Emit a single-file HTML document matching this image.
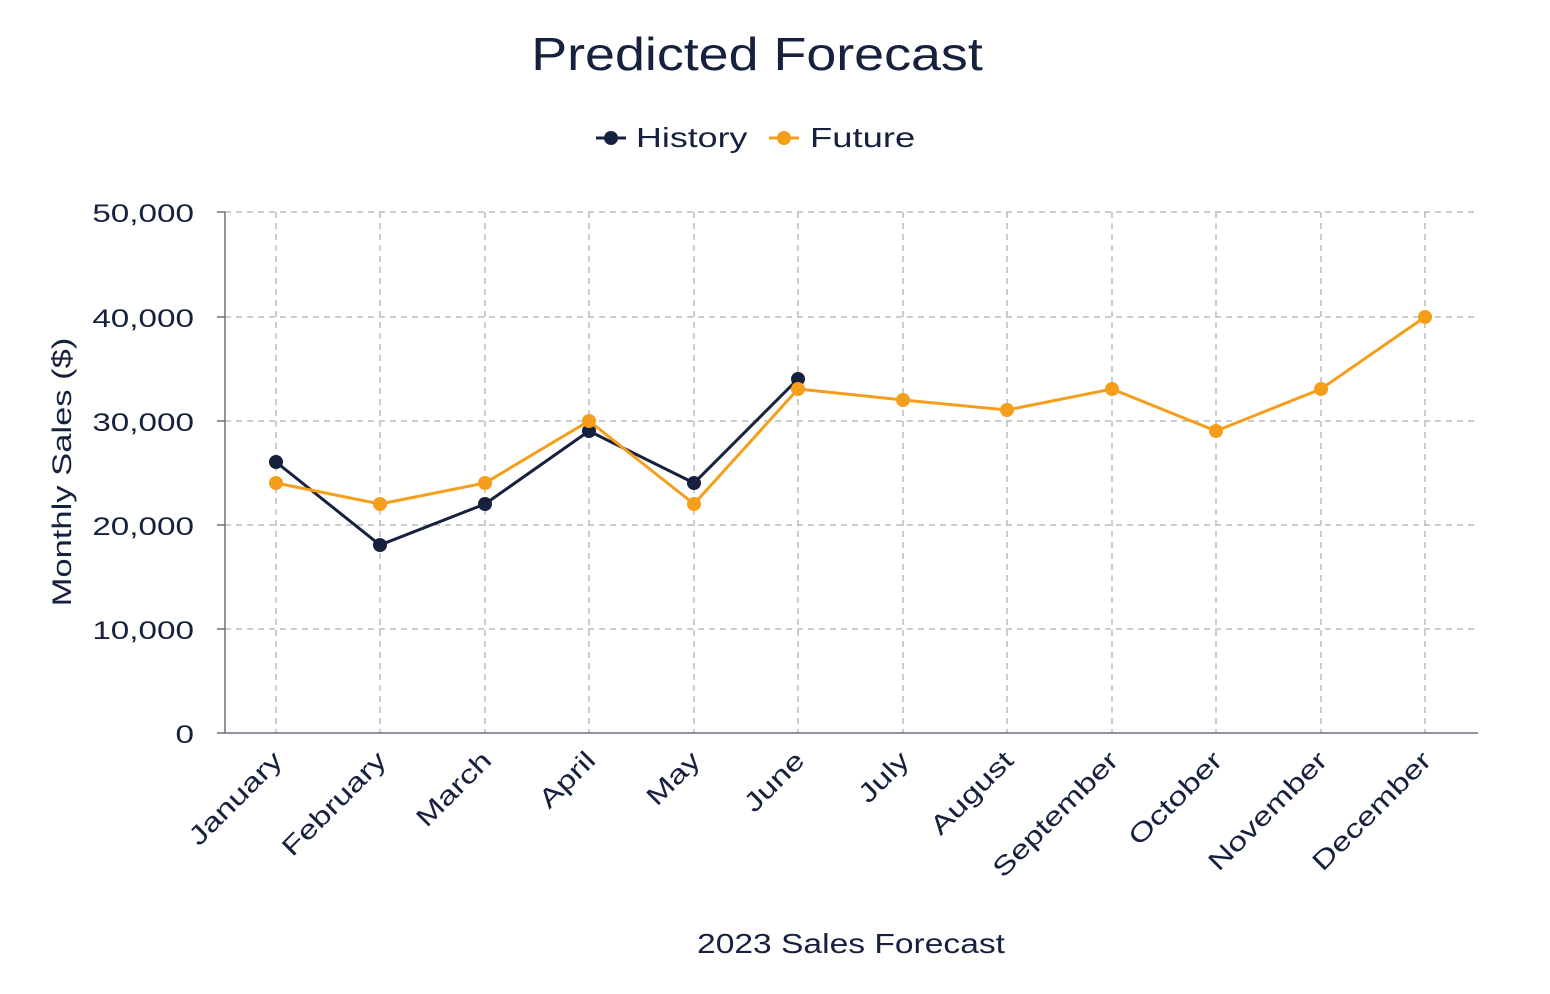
<!DOCTYPE html>
<html><head><meta charset="utf-8"><style>
body{margin:0;background:#fff;}
svg text{font-family:"Liberation Sans",sans-serif;fill:#16213e;}
</style></head><body>
<svg width="1550" height="989" viewBox="0 0 1550 989" xmlns="http://www.w3.org/2000/svg">
<text transform="translate(757,70) scale(1.17,1)" font-size="46" text-anchor="middle">Predicted Forecast</text>
<g>
<line x1="596" y1="138" x2="626" y2="138" stroke="#16213e" stroke-width="3"/>
<circle cx="611" cy="138" r="7" fill="#16213e"/>
<text transform="translate(636,147) scale(1.28,1)" font-size="28">History</text>
<line x1="769" y1="138" x2="799" y2="138" stroke="#f59e1b" stroke-width="3"/>
<circle cx="784" cy="138" r="7" fill="#f59e1b"/>
<text transform="translate(810,147) scale(1.3,1)" font-size="28">Future</text>
</g>
<g stroke="#bbb" stroke-width="1.5" stroke-dasharray="6,5">
<line x1="225" y1="212" x2="1478" y2="212"/>
<line x1="225" y1="317" x2="1478" y2="317"/>
<line x1="225" y1="421" x2="1478" y2="421"/>
<line x1="225" y1="525" x2="1478" y2="525"/>
<line x1="225" y1="629" x2="1478" y2="629"/>
<line x1="276" y1="212" x2="276" y2="733"/>
<line x1="380" y1="212" x2="380" y2="733"/>
<line x1="485" y1="212" x2="485" y2="733"/>
<line x1="589" y1="212" x2="589" y2="733"/>
<line x1="694" y1="212" x2="694" y2="733"/>
<line x1="798" y1="212" x2="798" y2="733"/>
<line x1="903" y1="212" x2="903" y2="733"/>
<line x1="1007" y1="212" x2="1007" y2="733"/>
<line x1="1112" y1="212" x2="1112" y2="733"/>
<line x1="1216" y1="212" x2="1216" y2="733"/>
<line x1="1321" y1="212" x2="1321" y2="733"/>
<line x1="1425" y1="212" x2="1425" y2="733"/>
</g>
<g stroke="#6b7280" stroke-width="1.5">
<line x1="225" y1="212" x2="225" y2="733"/>
<line x1="225" y1="733" x2="1478" y2="733"/>
<line x1="217" y1="212" x2="225" y2="212"/><line x1="217" y1="317" x2="225" y2="317"/>
<line x1="217" y1="421" x2="225" y2="421"/><line x1="217" y1="525" x2="225" y2="525"/>
<line x1="217" y1="629" x2="225" y2="629"/><line x1="217" y1="733" x2="225" y2="733"/>
</g>
<g font-size="25" text-anchor="end">
<text transform="translate(194,222) scale(1.33,1)">50,000</text>
<text transform="translate(194,327) scale(1.33,1)">40,000</text>
<text transform="translate(194,431) scale(1.33,1)">30,000</text>
<text transform="translate(194,535) scale(1.33,1)">20,000</text>
<text transform="translate(194,639) scale(1.33,1)">10,000</text>
<text transform="translate(194,743) scale(1.33,1)">0</text>
</g>
<text transform="translate(71,472) rotate(-90) scale(1.28,1)" font-size="27" text-anchor="middle">Monthly Sales ($)</text>
<g font-size="26" text-anchor="end">
<text transform="translate(284,762) rotate(-45) scale(1.3,1)">January</text>
<text transform="translate(388,762) rotate(-45) scale(1.3,1)">February</text>
<text transform="translate(493,762) rotate(-45) scale(1.3,1)">March</text>
<text transform="translate(597,762) rotate(-45) scale(1.3,1)">April</text>
<text transform="translate(702,762) rotate(-45) scale(1.3,1)">May</text>
<text transform="translate(806,762) rotate(-45) scale(1.3,1)">June</text>
<text transform="translate(911,762) rotate(-45) scale(1.3,1)">July</text>
<text transform="translate(1015,762) rotate(-45) scale(1.3,1)">August</text>
<text transform="translate(1120,762) rotate(-45) scale(1.3,1)">September</text>
<text transform="translate(1224,762) rotate(-45) scale(1.3,1)">October</text>
<text transform="translate(1329,762) rotate(-45) scale(1.3,1)">November</text>
<text transform="translate(1433,762) rotate(-45) scale(1.3,1)">December</text>
</g>
<text transform="translate(851,953) scale(1.2,1)" font-size="28" text-anchor="middle">2023 Sales Forecast</text>
<polyline fill="none" stroke="#16213e" stroke-width="3" points="276,462 380,545 485,504 589,431 694,483 798,379"/>
<g fill="#16213e">
<circle cx="276" cy="462" r="7"/><circle cx="380" cy="545" r="7"/><circle cx="485" cy="504" r="7"/>
<circle cx="589" cy="431" r="7"/><circle cx="694" cy="483" r="7"/><circle cx="798" cy="379" r="7"/>
</g>
<polyline fill="none" stroke="#f59e1b" stroke-width="3" points="276,483 380,504 485,483 589,421 694,504 798,389 903,400 1007,410 1112,389 1216,431 1321,389 1425,317"/>
<g fill="#f59e1b">
<circle cx="276" cy="483" r="7"/><circle cx="380" cy="504" r="7"/><circle cx="485" cy="483" r="7"/>
<circle cx="589" cy="421" r="7"/><circle cx="694" cy="504" r="7"/><circle cx="798" cy="389" r="7"/>
<circle cx="903" cy="400" r="7"/><circle cx="1007" cy="410" r="7"/><circle cx="1112" cy="389" r="7"/>
<circle cx="1216" cy="431" r="7"/><circle cx="1321" cy="389" r="7"/><circle cx="1425" cy="317" r="7"/>
</g>
</svg>
</body></html>
